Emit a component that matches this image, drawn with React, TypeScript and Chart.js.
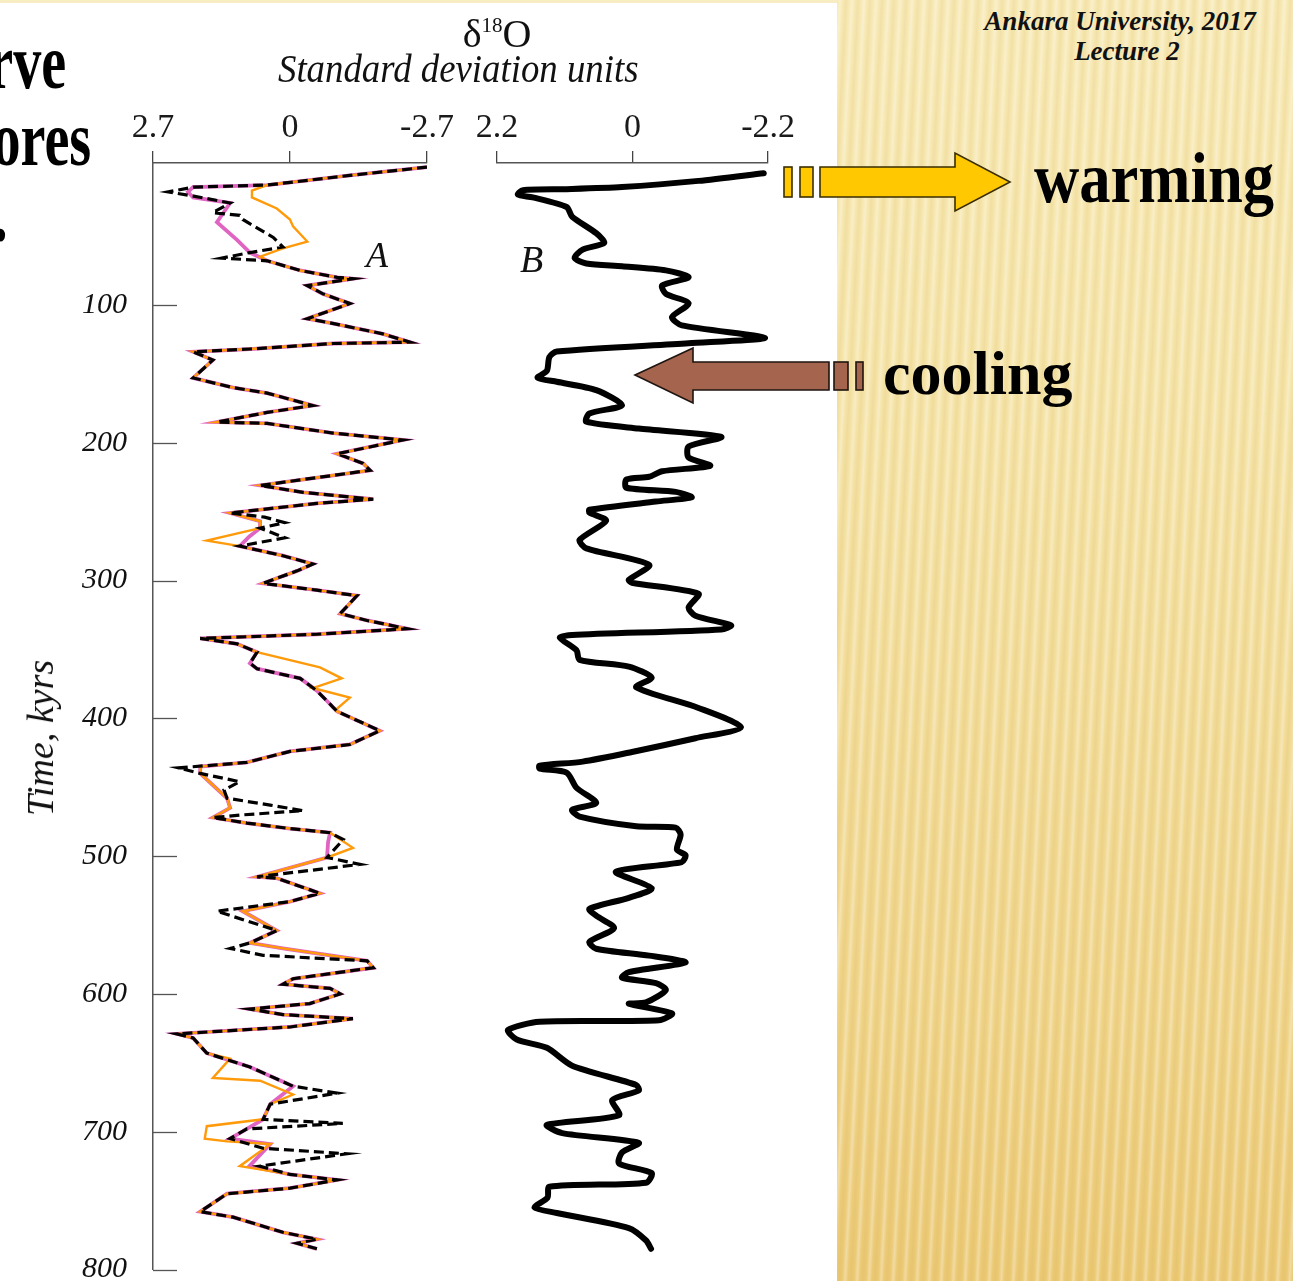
import React, { useEffect, useRef } from 'react';
import { Chart, registerables } from 'chart.js';
Chart.register(...registerables);

const SERIF = '"Liberation Serif", "Times New Roman", serif';

// ---- axis ticks ----
const TIME_TICKS = [100, 200, 300, 400, 500, 600, 700, 800];
const A_TICKS = [2.7, 0, -2.7];
const B_TICKS = [2.2, 0, -2.2];

// ---- Panel A segments: [time kyr, delta18O std units] ----
const A_TOP = [[0, -2.7], [6, -1.18], [13, 0.45]];
const A_HOOK = [[14.5, 1.91], [18, 2.01], [22, 1.91], [26, 1.18]];
const BLACK_HOOK = [[14.5, 1.91], [18, 2.4], [21, 1.9], [26, 1.18]];
const PINK_EARLY = [[40, 1.44], [53, 1.04], [62, 0.79]];
const BLACK_EARLY = [[33, 1.52], [35, 0.99], [38, 0.93], [51, 0.33], [58, 0.14], [62, 0.79], [66, 1.34]];
const ORANGE_EARLY = [[17, 0.75], [22, 0.75], [30, 0.26], [38, 0], [43, -0.06], [54, -0.34], [59, 0.14], [65, 0.59]];
const A_SEG1 = [[68, 0.45], [75, -0.2], [80, -0.93], [81, -1.24], [86, -0.34], [92, -0.65], [99, -1.18], [110, -0.34], [113, -0.79], [121, -1.83], [127, -2.36], [128, -0.85], [132, 0.79], [134, 1.91], [140, 1.52], [153, 1.91], [160, 1.12], [164, 0.45], [173, -0.45], [178, 0.45], [185, 1.44], [186, 0.45], [193, -0.85], [198, -2.23], [208, -0.93], [215, -1.44], [220, -1.58], [224, -0.79], [231, 0.59], [236, -0.26], [241, -1.64], [244, -0.53], [251, 1.18]];
const PINK_B2 = [[257, 0.59], [262, 0.59], [268, 0.8]];
const ORANGE_B2 = [[257, 0.59], [262, 0.59], [271, 1.64]];
const BLACK_B2 = [[254, 0.5], [258, 0.1], [262, 0.59], [269, 0.1]];
const A_SEG2 = [[275, 0.99], [282, 0.14], [288, -0.45], [293, -0.14], [302, 0.53], [307, -0.53], [311, -1.32], [324, -0.99], [329, -1.52], [335, -2.31], [339, -0.53], [342, 1.77], [346, 1.04], [352, 0.65]];
const PINK_B3 = [[360, 0.79], [364, 0.65], [371, -0.2], [380, -0.53], [392, -0.85]];
const ORANGE_B3 = [[363, -0.59], [371, -1.02], [378, -0.45], [385, -1.18], [393, -0.93]];
const A_SEG3 = [[395, -0.93], [409, -1.77], [419, -1.18], [424, 0], [432, 0.85], [435, 1.77], [440, 1.77], [458, 1.24], [465, 1.18], [472, 1.52], [476, 0.85], [480, 0], [483, -0.79]];
const BLACK_SEG3 = [[395, -0.93], [409, -1.77], [419, -1.18], [424, 0], [432, 0.85], [436, 2.2], [440, 1.77], [446, 0.99], [452, 1.3], [458, 1.24], [463, 0.39], [467, -0.26], [470, 0.9], [472, 1.52], [476, 0.85], [480, 0], [483, -0.79]];
const PINK_B5 = [[490, -0.75], [501, -0.73]];
const ORANGE_B5 = [[494, -1.24], [501, -0.73]];
const BLACK_B5 = [[488, -1.05], [501, -0.73], [506, -1.38]];
const A_SEG4 = [[515, 0.65], [516, 0.26], [527, -0.59], [533, 0], [540, 0.93], [554, 0.26], [563, 0.79], [567, 0.14], [576, -1.52], [581, -1.64], [589, -0.06], [593, 0.14], [596, -0.79], [600, -0.99], [607, -0.39], [611, 0.79], [615, 0.14], [618, -1.24], [624, 0], [629, 2.23], [632, 1.91], [643, 1.64]];
const BLACK_SEG4 = [[515, 0.65], [516, 0.26], [527, -0.59], [533, 0], [540, 1.44], [554, 0.26], [563, 0.79], [567, 1.18], [572, 0.53], [576, -1.52], [581, -1.64], [589, -0.06], [593, 0.14], [596, -0.79], [600, -0.99], [607, -0.39], [611, 0.79], [615, 0.14], [618, -1.24], [624, 0], [629, 2.23], [632, 1.91], [643, 1.64]];
const PINK_B6 = [[653, 0.79], [667, -0.06], [680, 0.39], [691, 0.53], [698, 0.85], [705, 1.18], [709, 0.39], [725, 0.8]];
const ORANGE_B6 = [[647, 1.18], [661, 1.52], [663, 0.59], [673, -0.06], [680, 0.39], [691, 0.53], [696, 1.64], [705, 1.68], [707, 1.24], [709, 0.39], [725, 0.99]];
const BLACK_B6 = [[653, 0.79], [667, -0.06], [672, -0.93], [680, 0.39], [691, 0.53], [694, -1.04], [698, 0.85], [705, 1.18], [712, 0.53], [716, -1.12], [725, 0.6]];
const A_END = [[731, 0], [735, -0.93], [741, 0], [745, 1.24], [758, 1.77], [762, 1.12], [773, 0.14], [778, -0.53], [781, -0.14], [785, -0.53]];

// ---- Panel B curve ----
const B_CURVE = [[4.4, -2.13], [10, -1.07], [14.5, 0.17], [16, 1.07], [16.7, 1.78], [20, 1.86], [22, 1.62], [29, 1.07], [36, 0.98], [48, 0.59], [55, 0.46], [60, 0.81], [66, 0.94], [70, 0.75], [72, 0.17], [75, -0.54], [80, -0.91], [86, -0.48], [92, -0.54], [99, -0.91], [109, -0.64], [115, -0.8], [124, -2.15], [128, -0.91], [134, 1.23], [138, 1.35], [148, 1.39], [153, 1.54], [156, 1.23], [162, 0.59], [173, 0.17], [179, 0.7], [185, 0.75], [190, -0.1], [196, -1.44], [203, -0.91], [211, -0.91], [217, -1.26], [221, -0.48], [225, -0.27], [227, 0.1], [233, 0.1], [236, -0.7], [240, -0.96], [243, -0.38], [249, 0.7], [251, 0.7], [257, 0.43], [271, 0.86], [277, 0.75], [289, -0.27], [300, 0.06], [302, 0.01], [310, -1.07], [320, -0.91], [326, -1.02], [333, -1.6], [336, -1.44], [340, 0.98], [342, 1.18], [351, 0.91], [358, 0.86], [363, 0.06], [371, -0.31], [378, -0.06], [393, -1.07], [407, -1.76], [415, -1.02], [425, 0.01], [432, 0.81], [435, 1.51], [437, 1.51], [440, 1.07], [451, 0.91], [462, 0.59], [467, 0.98], [472, 0.86], [479, -0.06], [480, -0.7], [485, -0.78], [496, -0.72], [500, -0.86], [505, -0.8], [512, 0.27], [524, -0.31], [531, 0.06], [539, 0.7], [544, 0.59], [553, 0.3], [563, 0.7], [568, 0.59], [573, -0.27], [578, -0.86], [585, 0.06], [589, 0.17], [593, -0.38], [598, -0.54], [607, -0.22], [608, 0.06], [615, -0.64], [620, -0.43], [621, 1.51], [627, 2.02], [634, 1.88], [640, 1.39], [653, 0.98], [667, -0.06], [671, -0.1], [678, 0.33], [689, 0.22], [696, 1.39], [702, 1.14], [709, -0.1], [716, 0.17], [724, 0.22], [731, -0.31], [738, -0.22], [741, 1.35], [749, 1.38], [756, 1.59], [760, 1.23], [771, 0.06], [780, -0.22], [786, -0.3]];

const PINK_SERIES = [...A_TOP, ...A_HOOK, ...PINK_EARLY, ...A_SEG1, ...PINK_B2, ...A_SEG2, ...PINK_B3, ...A_SEG3, ...PINK_B5, ...A_SEG4, ...PINK_B6, ...A_END];
const ORANGE_SERIES = [...A_TOP, ...ORANGE_EARLY, ...A_SEG1, ...ORANGE_B2, ...A_SEG2, ...ORANGE_B3, ...A_SEG3, ...ORANGE_B5, ...A_SEG4, ...ORANGE_B6, ...A_END];
const BLACK_SERIES = [...A_TOP, ...BLACK_HOOK, ...BLACK_EARLY, ...A_SEG1, ...BLACK_B2, ...A_SEG2, ...PINK_B3, ...BLACK_SEG3, ...BLACK_B5, ...BLACK_SEG4, ...BLACK_B6, ...A_END];

const toXY = (pts: number[][]) => pts.map(([t, v]) => ({ x: v, y: t }));
const fmt = (v: number) => (v === 0 ? '0' : v.toFixed(1));

const innerTicks = {
  id: 'innerTicks',
  afterDraw(chart: any) {
    const { ctx, chartArea, scales } = chart;
    const ys = scales.y;
    ctx.save();
    ctx.strokeStyle = '#555';
    ctx.lineWidth = 1.3;
    TIME_TICKS.forEach((t) => {
      const py = Math.round(ys.getPixelForValue(t)) + 0.5;
      ctx.beginPath();
      ctx.moveTo(chartArea.left, py);
      ctx.lineTo(chartArea.left + 24, py);
      ctx.stroke();
    });
    ctx.restore();
  },
};

function xAxis(lim: number, ticks: number[]) {
  return {
    type: 'linear',
    position: 'top',
    min: -lim,
    max: lim,
    reverse: true,
    afterFit: (s: any) => { s.height = 163; },
    afterBuildTicks: (s: any) => { s.ticks = ticks.map((v) => ({ value: v })); },
    grid: { drawOnChartArea: false, drawTicks: true, tickLength: 12, color: '#444', lineWidth: 1.3 },
    border: { display: true, color: '#555', width: 1.4 },
    ticks: { autoSkip: false, maxRotation: 0, minRotation: 0, padding: 3, color: '#1a1a1a', font: { family: SERIF, size: 34 }, callback: (v: any) => fmt(Number(v)) },
  };
}

const common = {
  animation: false,
  responsive: false,
  maintainAspectRatio: false,
  plugins: { legend: { display: false }, tooltip: { enabled: false } },
  elements: { point: { radius: 0 } },
};

export default function App() {
  const refA = useRef<HTMLCanvasElement>(null);
  const refB = useRef<HTMLCanvasElement>(null);

  useEffect(() => {
    document.body.style.margin = '0';
    const chartA = new Chart(refA.current as HTMLCanvasElement, {
      type: 'scatter',
      data: {
        datasets: [
          { data: toXY(BLACK_SERIES), showLine: true, borderColor: '#000', borderWidth: 3.2, borderDash: [10, 5], pointRadius: 0, order: 0 },
          { data: toXY(ORANGE_SERIES), showLine: true, borderColor: '#ff9a0a', borderWidth: 2.4, pointRadius: 0, order: 1 },
          { data: toXY(PINK_SERIES), showLine: true, borderColor: '#e064c2', borderWidth: 3.8, pointRadius: 0, order: 2 },
        ],
      },
      options: {
        ...common,
        layout: { padding: { left: 0, right: 33, top: 0, bottom: 13 } },
        scales: {
          x: xAxis(2.7, A_TICKS),
          y: {
            type: 'linear',
            position: 'left',
            min: -3,
            max: 800,
            reverse: true,
            afterFit: (s: any) => { s.width = 153; },
            afterBuildTicks: (s: any) => { s.ticks = TIME_TICKS.map((v) => ({ value: v })); },
            grid: { drawOnChartArea: false, drawTicks: false },
            border: { display: true, color: '#555', width: 1.5 },
            ticks: { padding: 26, color: '#111', font: { family: SERIF, size: 30, style: 'italic', lineHeight: 0.9 } },
          },
        },
      } as any,
      plugins: [innerTicks],
    } as any);

    const chartB = new Chart(refB.current as HTMLCanvasElement, {
      type: 'scatter',
      data: {
        datasets: [
          { data: toXY(B_CURVE), showLine: true, borderColor: '#000', borderWidth: 6, tension: 0.25, borderJoinStyle: 'round', borderCapStyle: 'round', pointRadius: 0 },
        ],
      },
      options: {
        ...common,
        layout: { padding: { left: 37, right: 28, top: 0, bottom: 13 } },
        scales: {
          x: xAxis(2.2, B_TICKS),
          y: { type: 'linear', display: false, min: -3, max: 800, reverse: true },
        },
      } as any,
    } as any);

    return () => { chartA.destroy(); chartB.destroy(); };
  }, []);

  const top = (baseline: number, size: number) => baseline - 0.8375 * size;

  return (
    <div style={{ position: 'absolute', left: 0, top: 0, width: 1293, height: 1281, overflow: 'hidden', background: '#fff', fontFamily: SERIF }}>
      {/* right slide background */}
      <div style={{
        position: 'absolute', left: 837, top: 0, width: 456, height: 1281,
        background: 'repeating-linear-gradient(93deg, rgba(255,255,255,0) 0px, rgba(255,255,255,0.32) 3px, rgba(255,255,255,0) 6px, rgba(196,150,60,0.10) 9px, rgba(255,255,255,0) 12px), linear-gradient(180deg, #f7e9b4 0%, #f5e4a8 30%, #f2dc98 55%, #efd387 80%, #ebc974 100%)',
      }} />
      <div style={{ position: 'absolute', left: 0, top: 0, width: 837, height: 3, background: '#f8ecc2' }} />

      <canvas ref={refA} width={460} height={1309} style={{ position: 'absolute', left: 0, top: 0, width: 460, height: 1309 }} />
      <canvas ref={refB} width={338} height={1281} style={{ position: 'absolute', left: 460, top: 0, width: 338, height: 1281 }} />

      {/* chart titles */}
      <div style={{ position: 'absolute', left: 437, width: 120, top: top(47, 40), fontSize: 40, lineHeight: '40px', textAlign: 'center', color: '#111', whiteSpace: 'nowrap' }}>
        δ<span style={{ fontSize: 21, position: 'relative', top: -15 }}>18</span>O
      </div>
      <div style={{ position: 'absolute', left: 278, top: top(82, 40), fontSize: 40, lineHeight: '40px', fontStyle: 'italic', color: '#111', whiteSpace: 'nowrap', transform: 'scaleX(0.92)', transformOrigin: 'left top' }}>
        Standard deviation units
      </div>
      <div style={{ position: 'absolute', left: 40, top: 738, fontSize: 38, lineHeight: '38px', fontStyle: 'italic', color: '#111', whiteSpace: 'nowrap', transform: 'translate(-50%, -50%) rotate(-90deg)' }}>
        Time, kyrs
      </div>
      <div style={{ position: 'absolute', left: 366, top: top(267, 36), fontSize: 36, lineHeight: '36px', fontStyle: 'italic', color: '#111' }}>A</div>
      <div style={{ position: 'absolute', left: 520, top: top(272, 38), fontSize: 38, lineHeight: '38px', fontStyle: 'italic', color: '#111' }}>B</div>

      {/* clipped slide title fragments */}
      <div style={{ position: 'absolute', right: 1293 - 66, top: top(88, 78), fontSize: 78, lineHeight: '78px', fontWeight: 'bold', color: '#000', whiteSpace: 'nowrap', transform: 'scaleX(0.72)', transformOrigin: 'right top' }}>rve</div>
      <div style={{ position: 'absolute', right: 1293 - 91, top: top(165, 78), fontSize: 78, lineHeight: '78px', fontWeight: 'bold', color: '#000', whiteSpace: 'nowrap', transform: 'scaleX(0.72)', transformOrigin: 'right top' }}>ores</div>
      <div style={{ position: 'absolute', right: 1293 - 7, top: top(241, 78), fontSize: 78, lineHeight: '78px', fontWeight: 'bold', color: '#000', whiteSpace: 'nowrap', transform: 'scaleX(0.72)', transformOrigin: 'right top' }}>.</div>

      {/* header */}
      <div style={{ position: 'absolute', left: 960, width: 320, top: top(31, 27), fontSize: 27, lineHeight: '27px', fontWeight: 'bold', fontStyle: 'italic', textAlign: 'center', color: '#111', whiteSpace: 'nowrap' }}>
        Ankara University, 2017
      </div>
      <div style={{ position: 'absolute', left: 967, width: 320, top: top(61, 27), fontSize: 27, lineHeight: '27px', fontWeight: 'bold', fontStyle: 'italic', textAlign: 'center', color: '#111', whiteSpace: 'nowrap' }}>
        Lecture 2
      </div>

      {/* arrows */}
      <svg width={1293} height={1281} style={{ position: 'absolute', left: 0, top: 0 }}>
        <g fill="#ffc800" stroke="#3a2e00" strokeWidth={1.6}>
          <rect x={784} y={167} width={8} height={30} />
          <rect x={800} y={167} width={13} height={30} />
          <polygon points="820,167 955,167 955,153 1010,182 955,211 955,197 820,197" />
        </g>
        <g fill="#a5644e" stroke="#1e1410" strokeWidth={1.6}>
          <polygon points="635,375 693,348 693,362 829,362 829,390 693,390 693,403" />
          <rect x={834} y={362} width={14} height={28} />
          <rect x={856} y={362} width={7} height={28} />
        </g>
      </svg>

      <div style={{ position: 'absolute', left: 1034, top: top(202, 72), fontSize: 72, lineHeight: '72px', fontWeight: 'bold', color: '#000', whiteSpace: 'nowrap', transform: 'scaleX(0.87)', transformOrigin: 'left top' }}>warming</div>
      <div style={{ position: 'absolute', left: 883, top: top(394, 62), fontSize: 62, lineHeight: '62px', fontWeight: 'bold', color: '#000', whiteSpace: 'nowrap' }}>cooling</div>
    </div>
  );
}
